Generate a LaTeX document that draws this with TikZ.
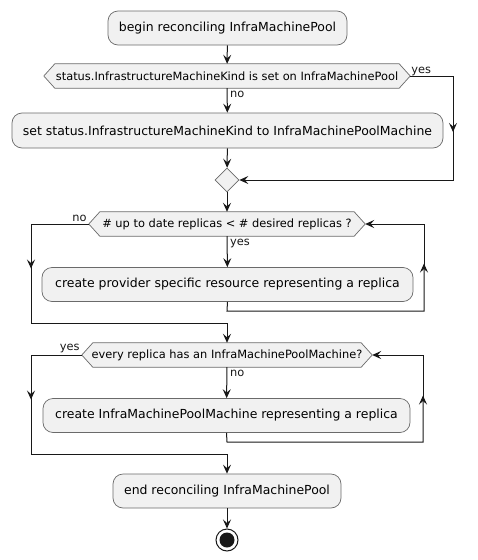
\documentclass[tikz,border=0pt]{standalone}
\usepackage{fontspec}
\setmainfont{DejaVu Sans}
\usetikzlibrary{arrows.meta,calc,shapes.geometric,backgrounds}
\definecolor{boxfill}{HTML}{F1F1F1}
\definecolor{boxline}{HTML}{6A6A6A}
\definecolor{flowc}{HTML}{181818}
\tikzset{
  act/.style={draw=boxline, line width=0.7pt, fill=boxfill, rounded corners=10pt, minimum height=34pt, inner sep=0pt, font=\fontsize{12.45}{14}\selectfont},
  cond/.style={inner sep=0pt, minimum height=24pt, font=\fontsize{11.4}{13}\selectfont},
  merge/.style={diamond, draw=boxline, line width=0.7pt, fill=boxfill, minimum width=24pt, minimum height=24pt, inner sep=0pt},
  flow/.style={draw=flowc, line width=1pt},
  arr/.style={flow, -{Stealth[length=9pt,width=8pt,inset=3.5pt]}},
  lbl/.style={font=\fontsize{11.4}{13}\selectfont, inner sep=1pt, text=flowc},
  hexfill/.style={draw=boxline, line width=0.7pt, fill=boxfill}
}
\newcommand\hexagonbg[1]{%
  \begin{pgfonlayer}{background}
  \draw[hexfill] (#1.west) -- ($(#1.north west)+(11,0)$) -- ($(#1.north east)+(-11,0)$) -- (#1.east) -- ($(#1.south east)+(-11,0)$) -- ($(#1.south west)+(11,0)$) -- cycle;
  \end{pgfonlayer}}
\begin{document}
\begin{tikzpicture}[x=1pt,y=-1pt]
\useasboundingbox (0,0) rectangle (478,560);
% nodes
\node[act, minimum width=239pt] (begin) at (227.5,28) {begin reconciling InfraMachinePool};
\node[cond, minimum width=366pt] (d1) at (227,76) {status.InfrastructureMachineKind is set on InfraMachinePool};
\hexagonbg{d1}
\node[act, minimum width=431pt, minimum height=35pt] (set) at (227.5,130.5) {set status.InfrastructureMachineKind to InfraMachinePoolMachine};
\node[merge] (m) at (227,180) {};
\node[cond, minimum width=276pt] (d2) at (227,224) {\# up to date replicas < \# desired replicas ?};
\hexagonbg{d2}
\node[act, minimum width=371pt] (prov) at (227.5,284.5) {create provider specific resource representing a replica};
\node[cond, minimum width=290pt] (d3) at (227,355) {every replica has an InfraMachinePoolMachine?};
\hexagonbg{d3}
\node[act, minimum width=367pt] (impm) at (226.5,415.5) {create InfraMachinePoolMachine representing a replica};
\node[act, minimum width=228pt] (end) at (227,491) {end reconciling InfraMachinePool};
\node[circle, draw=flowc, line width=1pt, fill=white, minimum size=22pt, inner sep=0pt] (stop) at (227,540) {};
\fill[flowc] (stop.center) circle (7.5pt);
% labels
\node[lbl, anchor=south west] (l1) at ($(d1.east)+(0,1)$) {yes};
\node[lbl, anchor=north west] (l2) at ($(d1.south)+(2,2)$) {no};
\node[lbl, anchor=south east] (l3) at ($(d2.west)+(-1,-1)$) {no};
\node[lbl, anchor=north west] (l4) at ($(d2.south)+(2,2)$) {yes};
\node[lbl, anchor=south east] (l5) at ($(d3.west)+(-1,-1)$) {yes};
\node[lbl, anchor=north west] (l6) at ($(d3.south)+(2,2)$) {no};
% coordinates
\coordinate (a1) at (453,76);
\coordinate (a2) at (453,180);
\coordinate (b1) at (31,224);
\coordinate (b2) at (31,323);
\coordinate (b3) at (227,323);
\coordinate (c1) at (227,311);
\coordinate (c2) at (424,311);
\coordinate (c3) at (424,224);
\coordinate (e1) at (31,355);
\coordinate (e2) at (31,454);
\coordinate (e3) at (227,454);
\coordinate (f1) at (227,442);
\coordinate (f2) at (423,442);
\coordinate (f3) at (423,355);
% connectors
\draw[arr] (begin) -- (d1);
\draw[arr] (d1) -- (set);
\draw[arr] (set) -- (m);
\draw[arr] (d1.east) -- (a1) -- ($(a1)!0.5!(a2)+(0,4)$);
\draw[arr] ($(a1)!0.5!(a2)$) -- (a2) -- (m.east);
\draw[arr] (m) -- (d2);
\draw[arr] (d2) -- (prov);
\draw[arr] (prov.south) -- (c1) -- (c2) -- ($(c2)!0.5!(c3)+(0,-4)$);
\draw[arr] ($(c2)!0.5!(c3)$) -- (c3) -- (d2.east);
\draw[arr] (d2.west) -- (b1) -- ($(b1)!0.45!(b2)$);
\draw[arr] ($(b1)!0.4!(b2)$) -- (b2) -- (b3) -- (d3.north);
\draw[arr] (d3) -- (impm);
\draw[arr] (impm.south) -- (f1) -- (f2) -- ($(f2)!0.5!(f3)+(0,-3)$);
\draw[arr] ($(f2)!0.5!(f3)$) -- (f3) -- (d3.east);
\draw[arr] (d3.west) -- (e1) -- ($(e1)!0.45!(e2)$);
\draw[arr] ($(e1)!0.4!(e2)$) -- (e2) -- (e3) -- (end.north);
\draw[arr] (end) -- (stop);
\end{tikzpicture}
\end{document}
